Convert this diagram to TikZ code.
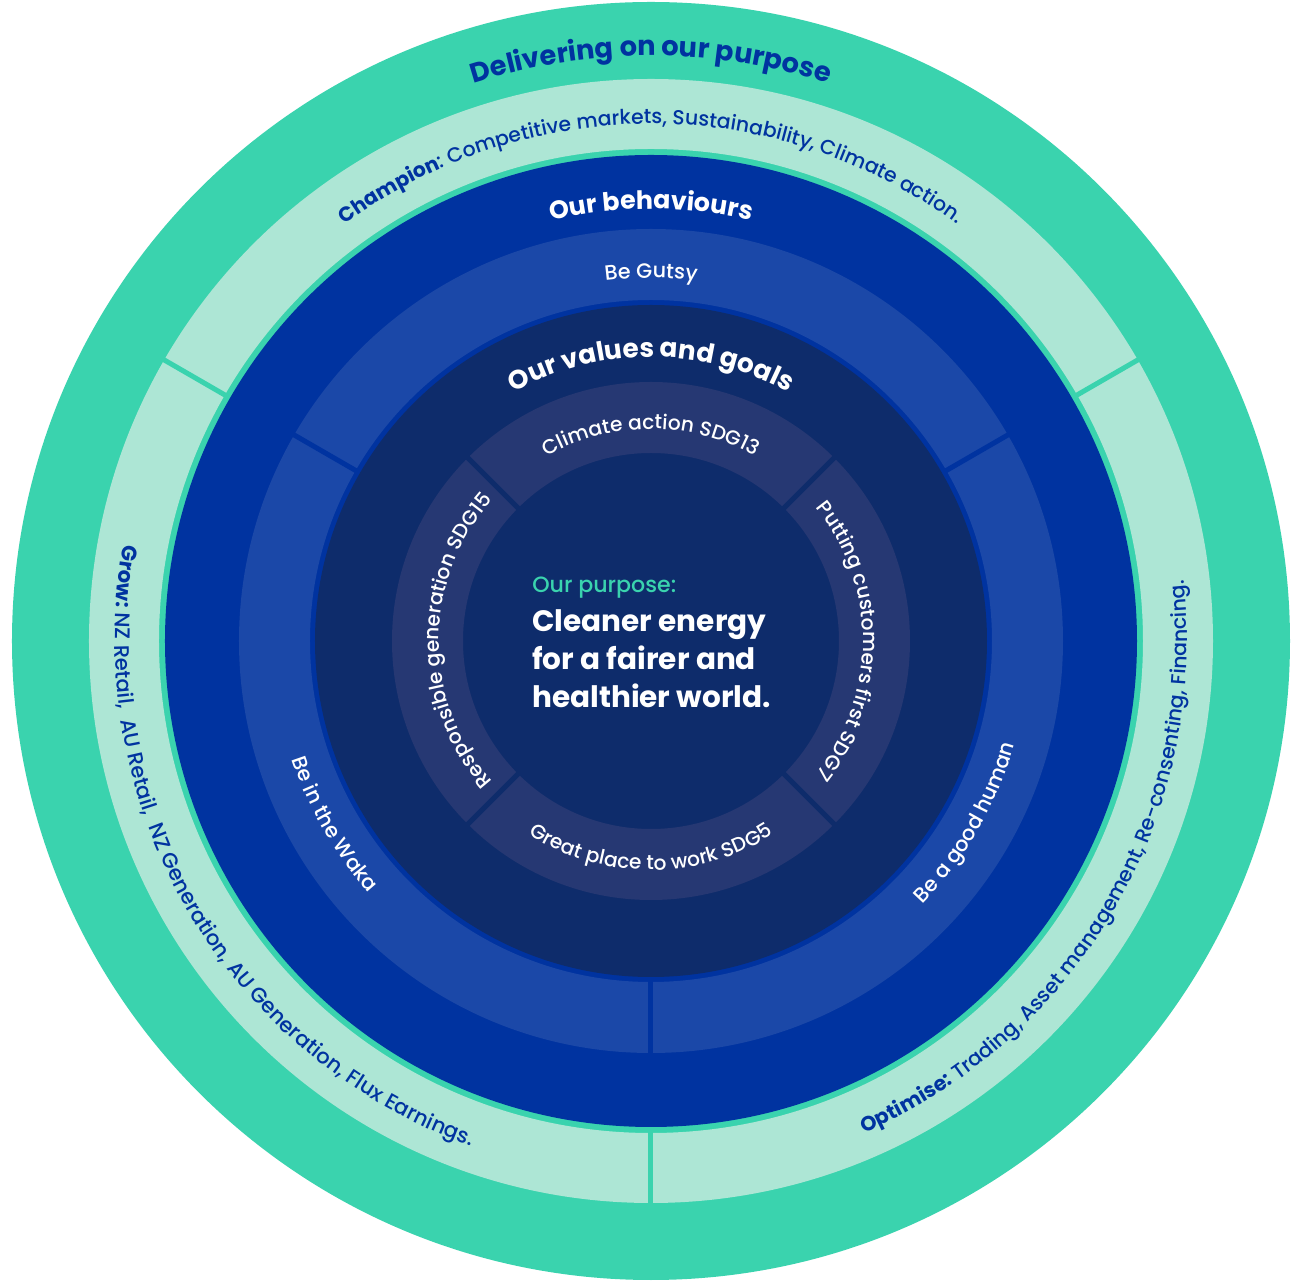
\documentclass[tikz,border=0pt]{standalone}
\usepackage{fontspec}
\setmainfont{Poppins}[UprightFont={* Medium},BoldFont={* Bold}]
\usepackage{tikz}
\usetikzlibrary{decorations.text,positioning}

\definecolor{purposegreen}{HTML}{3AD3AE}
\definecolor{bandgreen}{HTML}{ADE6D5}
\definecolor{royal}{HTML}{0033A0}
\definecolor{bandblue}{HTML}{1B48A8}
\definecolor{navy}{HTML}{0E2C6B}
\definecolor{ringblue}{HTML}{263873}

\begin{document}
\begin{tikzpicture}
	[   band text/.style={decorate,decoration={text along path,text align=center,text color=royal,text={#1}}},
	    inner text/.style={decorate,decoration={text along path,text align=center,text color=white,text={#1}}},
	    purpose line/.style={anchor=base west,inner sep=0,text=white,font=\bfseries\fontsize{16.8}{20}\selectfont},
	]
	\tikzset{divider/.style={draw=#1,line width=1mm}}
	\useasboundingbox (-13.02,-12.82) rectangle (13.04,12.82);
	
	% rings, outside in
	\fill[purposegreen] (0,0) circle (12.78);
	\fill[bandgreen,even odd rule] (0,0) circle (11.24) (0,0) circle (9.84);
	\fill[royal] (0,0) circle (9.72);
	\fill[bandblue,even odd rule] (0,0) circle (8.24) (0,0) circle (6.82);
	\fill[navy] (0,0) circle (6.72);
	\fill[ringblue,even odd rule] (0,0) circle (5.18) (0,0) circle (3.76);
	
	\foreach \a in {30,150,270}
	{
		\path[divider=purposegreen] (\a:9.8) -- (\a:11.3);
		\path[divider=royal] (\a:6.78) -- (\a:8.3);
	}
	\foreach \a in {45,135,225,315}
		\path[divider=navy] (\a:3.7) -- (\a:5.25);
	
	% delivering
	\path[band text={|\bfseries\fontsize{15.5}{18}\selectfont|Delivering on our purpose}] (150:11.7) arc[start angle=150,end angle=30,radius=11.7];
	\path[band text={|\bfseries\fontsize{11.6}{14}\selectfont|Champion|\fontsize{11.6}{14}\selectfont|: Competitive markets, Sustainability, Climate action.}] (150:10.34) arc[start angle=150,end angle=30,radius=10.34];
	\path[band text={|\bfseries\fontsize{12}{14}\selectfont|Grow:|\fontsize{12}{14}\selectfont| NZ Retail,{ } AU Retail,{ } NZ Generation, AU Generation, Flux Earnings.}] (150:10.72) arc[start angle=150,end angle=270,radius=10.72];
	\path[band text={|\bfseries\fontsize{11.7}{14}\selectfont|Optimise:|\fontsize{11.7}{14}\selectfont| Trading, Asset management, Re-consenting, Financing.}] (270:10.72) arc[start angle=270,end angle=390,radius=10.72];
	
	% behaviours
	\path[inner text={|\bfseries\fontsize{14.4}{16}\selectfont|Our behaviours}] (150:8.64) arc[start angle=150,end angle=30,radius=8.64];
	\path[inner text={|\fontsize{11.8}{14}\selectfont|Be Gutsy}] (150:7.26) arc[start angle=150,end angle=30,radius=7.26];
	\path[inner text={|\fontsize{11.8}{14}\selectfont|Be in the Waka}] (150:7.56) arc[start angle=150,end angle=270,radius=7.56];
	\path[inner text={|\fontsize{11.8}{14}\selectfont|Be a good human}] (270:7.56) arc[start angle=270,end angle=390,radius=7.56];
	
	% values and goals
	\path[inner text={|\bfseries\fontsize{15}{17}\selectfont|Our values and goals}] (150:5.68) arc[start angle=150,end angle=30,radius=5.68];
	\path[inner text={|\fontsize{11.5}{14}\selectfont|Climate action SDG13}] (135:4.24) arc[start angle=135,end angle=45,radius=4.24];
	\path[inner text={|\fontsize{11.5}{14}\selectfont|Putting customers first SDG7}] (45:4.24) arc[start angle=45,end angle=-45,radius=4.24];
	\path[inner text={|\fontsize{11.5}{14}\selectfont|Responsible generation SDG15}] (225:4.24) arc[start angle=225,end angle=135,radius=4.24];
	\path[inner text={|\fontsize{11.5}{14}\selectfont|Great place to work SDG5}] (225:4.58) arc[start angle=225,end angle=315,radius=4.58];
	
	% purpose
	\node[anchor=base west,inner sep=0,text=purposegreen,font=\fontsize{12.6}{15}\selectfont] (label) at (-2.38,0.96) {Our purpose:};
	\foreach \txt [count=\i] in {Cleaner energy,for a fairer and,healthier world.}
		\node[purpose line] (line-\i) at (-2.38,{0.18-0.76*(\i-1)}) {\txt};
\end{tikzpicture}
\end{document}
